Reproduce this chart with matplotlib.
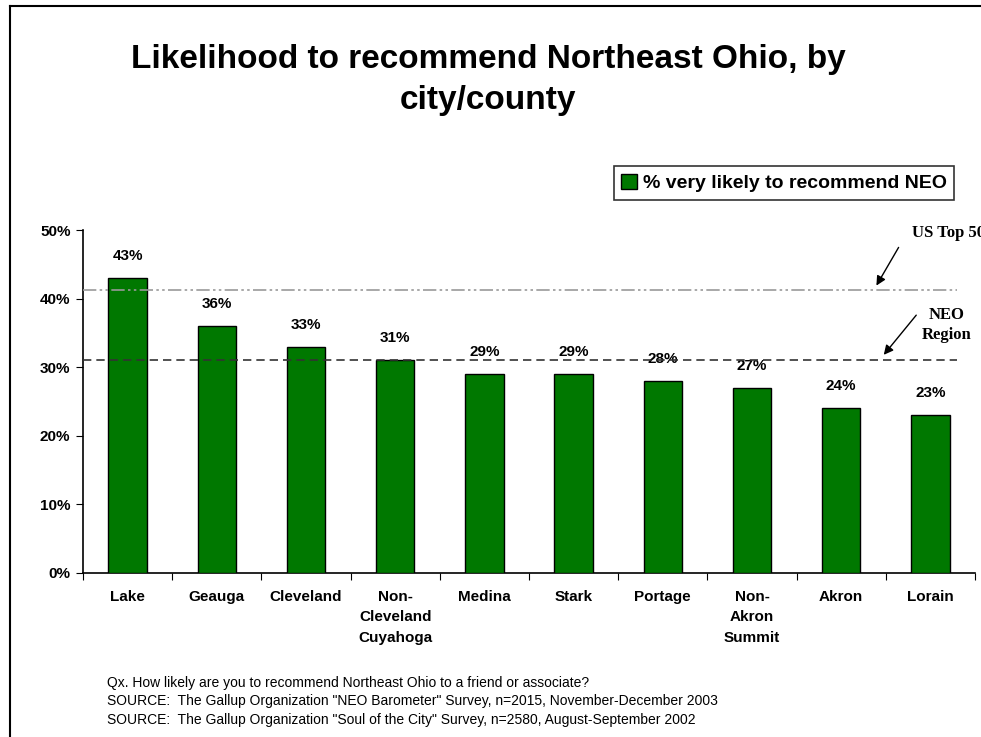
import matplotlib.pyplot as plt
from matplotlib.lines import Line2D
from matplotlib.patches import FancyArrowPatch

# Dados do gráfico
categories = ['Lake', 'Geauga', 'Cleveland', 'Non-\nCleveland\nCuyahoga', 'Medina',
              'Stark', 'Portage', 'Non-\nAkron\nSummit', 'Akron', 'Lorain']
values = [43, 36, 33, 31, 29, 29, 28, 27, 24, 23]
us_top50 = 41.3
neo_region = 31.0
yticks = [0, 10, 20, 30, 40, 50]

title = 'Likelihood to recommend Northeast Ohio, by\ncity/county'
legend_label = '% very likely to recommend NEO'
notes = [
    'Qx. How likely are you to recommend Northeast Ohio to a friend or associate?',
    'SOURCE:  The Gallup Organization "NEO Barometer" Survey, n=2015, November-December 2003',
    'SOURCE:  The Gallup Organization "Soul of the City" Survey, n=2580, August-September 2002',
]

plt.rcParams['font.family'] = ['Liberation Sans', 'DejaVu Sans']
serif = ['Liberation Serif', 'DejaVu Serif']

W, H = 981, 737
fig = plt.figure(figsize=(W / 100, H / 100), dpi=100)

# Moldura (só esquerda e topo aparecem)
fig.add_artist(Line2D([10 / W, 10 / W], [0, 1 - 6 / H], color='black', lw=1.5))
fig.add_artist(Line2D([10 / W, 1], [1 - 6 / H, 1 - 6 / H], color='black', lw=1.5))

ax = fig.add_axes([83 / W, 1 - 573 / H, 892 / W, (573 - 230) / H])

x = list(range(len(categories)))
bars = ax.bar(x, values, width=0.43, color='#007800', edgecolor='black', lw=1,
              label=legend_label, zorder=3)

for xi, v in zip(x, values):
    ax.text(xi, v + 2.2, f'{v}%', ha='center', va='bottom', fontsize=11,
            fontweight='bold')

ax.axhline(us_top50, xmin=0, xmax=0.98, color='#999999', lw=1.2,
           dashes=(8, 2, 1.5, 2, 1.5, 2), zorder=4)
ax.axhline(neo_region, xmin=0, xmax=0.98, color='#333333', lw=1.2,
           dashes=(5, 3), zorder=4)

ax.set_xlim(-0.5, len(categories) - 0.5)
ax.set_ylim(0, 50)
ax.set_yticks(yticks)
ax.set_yticklabels([f'{t}%' for t in yticks], fontsize=11, fontweight='bold')

# ticks maiores nas divisas, rótulos nos centros
ax.set_xticks([i - 0.5 for i in range(len(categories) + 1)])
ax.set_xticklabels([])
ax.set_xticks(x, minor=True)
ax.set_xticklabels(categories, minor=True, fontsize=11, fontweight='bold',
                   linespacing=1.6, va='top')
ax.tick_params(axis='x', which='minor', length=0, pad=12)
ax.tick_params(axis='x', which='major', length=5, direction='out')
ax.tick_params(axis='y', length=5, direction='out', pad=4)

for side in ['top', 'right']:
    ax.spines[side].set_visible(False)
for side in ['left', 'bottom']:
    ax.spines[side].set_linewidth(1.2)

# Anotações das linhas de referência
fig.text(912 / W, 1 - 233 / H, 'US Top 50', fontsize=12, fontweight='bold',
         family=serif, va='center', ha='left')
fig.text(947 / W, 1 - 325 / H, 'NEO\nRegion', fontsize=12, fontweight='bold',
         family=serif, va='center', ha='center', linespacing=1.35)
fig.add_artist(FancyArrowPatch(
    (900 / W, 1 - 245 / H), (875 / W, 1 - 288 / H), transform=fig.transFigure,
    arrowstyle='-|>', mutation_scale=14, color='black', lw=1))
fig.add_artist(FancyArrowPatch(
    (918 / W, 1 - 313 / H), (882 / W, 1 - 357 / H), transform=fig.transFigure,
    arrowstyle='-|>', mutation_scale=14, color='black', lw=1))

fig.text(488 / W, 1 - 80 / H, title, ha='center', va='center', fontsize=24,
         fontweight='bold', linespacing=1.4)

leg = fig.legend(handles=[bars], labels=[legend_label], loc='center',
                 bbox_to_anchor=(784 / W, 1 - 183 / H), frameon=True, fancybox=False,
                 prop={'size': 14, 'weight': 'bold'}, handlelength=0.8,
                 handleheight=0.8, handletextpad=0.3, borderpad=0.4)
leg.get_frame().set_edgecolor('black')
leg.get_frame().set_linewidth(1.2)

for i, line in enumerate(notes):
    fig.text(107 / W, 1 - (683 + i * 18.5) / H, line, fontsize=10, va='center',
             ha='left')

fig.savefig('out.png', dpi=100)
